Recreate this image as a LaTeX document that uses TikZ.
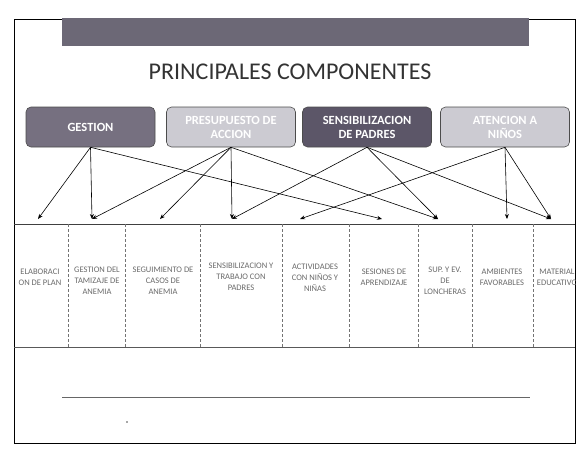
\documentclass[tikz,border=0pt]{standalone}
\usepackage{fontspec}
\setmainfont{Carlito}
\usetikzlibrary{arrows.meta}
\definecolor{barra}{RGB}{108,104,118}
\definecolor{oscuro}{RGB}{118,112,128}
\definecolor{morado}{RGB}{92,86,104}
\definecolor{claro}{RGB}{204,203,210}
\definecolor{texto}{RGB}{105,105,105}
\begin{document}
\begin{tikzpicture}[x=1pt,y=-1pt,
    caja/.style={draw=black!70,rounded corners=5pt,minimum width=129pt,minimum height=40pt,
      text=white,font=\fontsize{12.5}{14}\selectfont\bfseries,align=center,line width=0.6pt,inner sep=1pt},
    celda/.style={text=texto,font=\fontsize{8.5}{11}\selectfont,align=center,inner sep=0pt},
    flecha/.style={-{Stealth[length=5pt,width=4pt]},line width=0.6pt},
    separa/.style={densely dashed,black!55,line width=0.5pt}]
  \useasboundingbox (0,0) rectangle (580,450);
  % marco y cabecera
  \draw[line width=1pt] (14,19) rectangle (575,443);
  \fill[barra] (62,18) rectangle (529,46);
  \node[font=\fontsize{24}{28}\selectfont,text=black!80] (titulo) at (290,72) {PRINCIPALES COMPONENTES};
  % componentes
  \node[caja,fill=oscuro] (gestion) at (90.5,127) {GESTION};
  \node[caja,fill=claro] (presupuesto) at (231,127) {PRESUPUESTO DE\\ACCION};
  \node[caja,fill=morado] (padres) at (367,127) {SENSIBILIZACION\\DE PADRES};
  \node[caja,fill=claro] (ninos) at (505,127) {ATENCION A\\NIÑOS};
  % puntas de flecha sobre la tabla
  \foreach \n/\x in {1/38,2/92,3/160,4/232,5/300,6/382,7/438,8/507,9/551}
    \coordinate (t\n) at (\x,219);
  \draw[flecha] (gestion.south) -- (t1);
  \draw[flecha] (gestion.south) -- (t2);
  \draw[flecha] (gestion.south) -- (t6);
  \draw[flecha] (presupuesto.south) -- (t2);
  \draw[flecha] (presupuesto.south) -- (t3);
  \draw[flecha] (presupuesto.south) -- (t4);
  \draw[flecha] (presupuesto.south) -- (t7);
  \draw[flecha] (padres.south) -- (t4);
  \draw[flecha] (padres.south) -- (t7);
  \draw[flecha] (padres.south) -- (t9);
  \draw[flecha] (ninos.south) -- (t5);
  \draw[flecha] (ninos.south) -- (t8);
  \draw[flecha] (ninos.south) -- (t9);
  % tabla de actividades
  \draw[line width=0.8pt,black!75] (14,224) -- (575,224);
  \draw[line width=0.8pt,black!65] (14,347) -- (575,347);
  \foreach \x in {68,125,200,282,349,418,472,533}
    \draw[separa] (\x,224) -- (\x,347);
  \begin{scope}
    \clip (14,224) rectangle (575,347);
    \node[celda] (col1) at (40,277) {ELABORACI\\ON DE PLAN};
    \node[celda] (col2) at (97,281) {GESTION DEL\\TAMIZAJE DE\\ANEMIA};
    \node[celda] (col3) at (163,281) {SEGUIMIENTO DE\\CASOS DE\\ANEMIA};
    \node[celda] (col4) at (241,277) {SENSIBILIZACION Y\\TRABAJO CON\\PADRES};
    \node[celda] (col5) at (315,278) {ACTIVIDADES\\CON NIÑOS Y\\NIÑAS};
    \node[celda] (col6) at (384,277) {SESIONES DE\\APRENDIZAJE};
    \node[celda] (col7) at (445,281) {SUP. Y EV.\\DE\\LONCHERAS};
    \node[celda] (col8) at (502,277) {AMBIENTES\\FAVORABLES};
    \node[celda] (col9) at (557,277) {MATERIAL\\EDUCATIVO};
  \end{scope}
  % pie
  \draw[black!60,line width=0.6pt] (62,397) -- (530,397);
  \fill[black!70] (127,422) circle (0.8pt);
\end{tikzpicture}
\end{document}
